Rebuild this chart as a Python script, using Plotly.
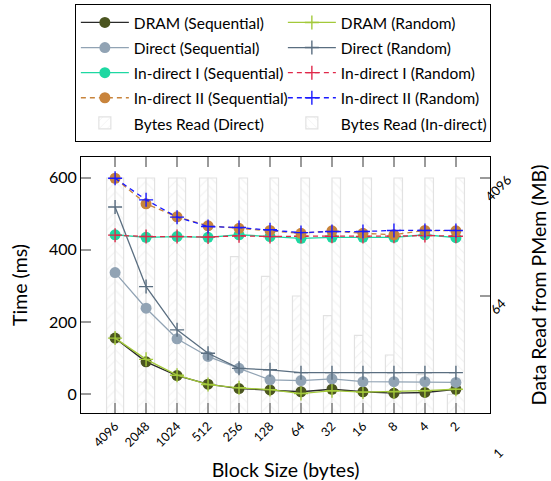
import plotly.graph_objects as go
import math

block_sizes = ["4096", "2048", "1024", "512", "256", "128", "64", "32", "16", "8", "4", "2"]

dram_seq = [155, 89, 51, 27, 15, 11, 6, 13, 6, 2, 4, 13]
dram_rand = [155, 96, 52, 26, 17, 12, 1, 9, 5, 6, 9, 13]
direct_seq = [337, 238, 153, 104, 71, 39, 37, 42, 34, 34, 34, 32]
direct_rand = [519, 298, 178, 113, 71, 67, 59, 59, 59, 59, 59, 59]
ind1_seq = [442, 435, 437, 435, 442, 437, 432, 435, 435, 435, 442, 434]
ind1_rand = [441, 437, 437, 436, 439, 437, 438, 438, 437, 438, 440, 438]
ind2_seq = [599, 528, 492, 467, 460, 454, 446, 453, 446, 442, 454, 453]
ind2_rand = [599, 539, 491, 465, 462, 456, 448, 451, 451, 454, 454, 454]

bytes_direct = [4096, 4096, 4096, 4096, 256, 128, 64, 32, 16, 8, 4, 2]
bytes_indirect = [4096] * 12

right_ticks = [1, 64, 4096]
left_ticks = [0, 200, 400, 600]

FONT = "Lato"
LOG_RANGE = [0.015, 3.934]

def lg(name):
    return '<span style="font-size:15.5px">' + name + '</span>'

fig = go.Figure()

def line(name, y, color, symbol, dash="solid", lcolor=None, msize=11):
    cross = symbol == "cross-thin"
    fig.add_trace(go.Scatter(
        x=block_sizes, y=y, name=lg(name), yaxis="y2", mode="lines+markers",
        line=dict(color=lcolor or color, width=1.3, dash=dash),
        marker=dict(symbol=symbol, size=10 if cross else msize, color=color,
                    line=dict(color=color, width=1.4 if cross else 0)),
    ))

line("DRAM (Sequential)", dram_seq, "#4b5520", "circle", lcolor="#2a2a2a")
line("DRAM (Random)", dram_rand, "#a3c93a", "cross-thin")
line("Direct (Sequential)", direct_seq, "#91a3b4", "circle")
line("Direct (Random)", direct_rand, "#5a6e80", "cross-thin")
line("In-direct I (Sequential)", ind1_seq, "#1ed8a2", "circle")
line("In-direct I (Random)", ind1_rand, "#e0284a", "cross-thin", dash="5px,4px")
line("In-direct II (Sequential)", ind2_seq, "#c8843c", "circle", dash="5px,4px")
line("In-direct II (Random)", ind2_rand, "#1a1aff", "cross-thin", dash="5px,4px")

def bars(name, y, shape):
    fig.add_trace(go.Bar(
        x=block_sizes, y=y, name=lg(name), yaxis="y",
        marker=dict(color="white", line=dict(color="#e2e2e2", width=1.2),
                    pattern=dict(shape=shape, fgcolor="#e4e4e4", bgcolor="white",
                                 size=7, solidity=0.15)),
    ))

bars("Bytes Read (Direct)", bytes_direct, "/")
bars("Bytes Read (In-direct)", bytes_indirect, "\\")

annotations = []
for v in right_ticks:
    yv = max(math.log10(v), LOG_RANGE[0])
    annotations.append(dict(
        x=1.0, xref="paper", xanchor="center", xshift=8,
        y=yv, yref="y", yanchor="middle",
        yshift=(-10 if v != 1 else -40),
        text=str(v), showarrow=False, textangle=-45,
        font=dict(family=FONT, size=13, color="black"),
    ))

fig.update_layout(
    width=551, height=481,
    margin=dict(l=81, r=61, t=157, b=68, autoexpand=False),
    paper_bgcolor="white", plot_bgcolor="white",
    font=dict(family=FONT, size=13, color="black"),
    barmode="group", bargap=0.45, bargroupgap=0,
    showlegend=True,
    legend=dict(
        orientation="h", x=-0.015, xanchor="left", y=1.598, yanchor="top",
        entrywidth=144, entrywidthmode="pixels", itemwidth=48,
        bordercolor="black", borderwidth=1, bgcolor="white",
        font=dict(family=FONT, size=17), tracegroupgap=0,
        traceorder="normal",
    ),
    xaxis=dict(
        type="category", range=[-1.1, 12.1],
        ticks="inside", ticklen=10, tickwidth=2, tickcolor="#9a9a9a",
        showline=True, linecolor="black", linewidth=1, mirror="ticks",
        tickangle=-45, tickfont=dict(size=12.5),
        title=dict(text="Block Size (bytes)", font=dict(size=19.5), standoff=18),
        showgrid=False, zeroline=False,
    ),
    yaxis=dict(
        type="log", range=LOG_RANGE, side="right",
        tickvals=right_ticks, showticklabels=False,
        ticks="inside", ticklen=10, tickwidth=2, tickcolor="#9a9a9a",
        showline=True, linecolor="black", linewidth=1,
        title=dict(text="Data Read from PMem (MB)", font=dict(size=19.5), standoff=42),
        showgrid=False, zeroline=False,
    ),
    yaxis2=dict(
        overlaying="y", side="left", range=[-53, 658],
        tickvals=left_ticks, ticks="inside", ticklen=10, tickwidth=2, tickcolor="#9a9a9a",
        showline=True, linecolor="black", linewidth=1,
        tickfont=dict(size=16),
        title=dict(text="Time (ms)", font=dict(size=19.5), standoff=16),
        showgrid=False, zeroline=False,
    ),
    annotations=annotations,
)

fig.write_html("out.html", config={"displayModeBar": False},
               post_script="document.body.style.margin='0';")
